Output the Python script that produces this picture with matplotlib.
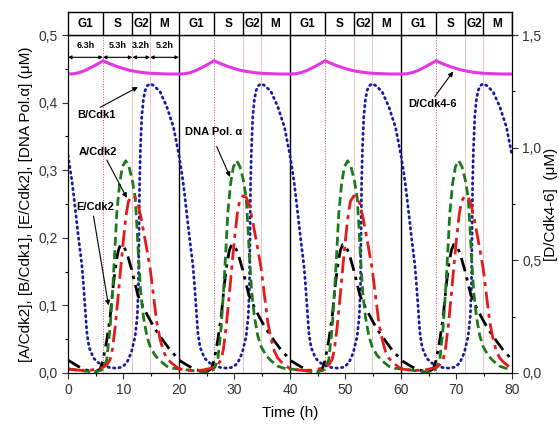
import numpy as np
import matplotlib.pyplot as plt
import matplotlib as mpl
from matplotlib.ticker import FuncFormatter, MultipleLocator

mpl.rcParams['font.family'] = ['Liberation Sans', 'DejaVu Sans']
mpl.rcParams['font.size'] = 10

period = 20.0
n_periods = 4

# one period of each curve (repeats every 20 h)
t_b = [0, 0.7, 1.0, 1.9, 2.5, 2.8, 3.1, 3.4, 3.8, 4.6, 5.5, 6.4, 7.5, 8.8, 9.8, 10.6, 11.4,
       12.1, 12.5, 12.7, 12.8, 12.9, 13.05, 13.3, 13.6, 13.9, 14.3, 14.8, 15.5, 16.6, 17.8,
       19.0, 19.7, 20]
b_cdk1 = [0.322, 0.285, 0.265, 0.2, 0.16, 0.13, 0.095, 0.06, 0.038, 0.022, 0.015, 0.011, 0.008,
          0.007, 0.009, 0.015, 0.03, 0.054, 0.085, 0.13, 0.2, 0.28, 0.33, 0.38, 0.405, 0.418,
          0.425, 0.428, 0.425, 0.416, 0.394, 0.364, 0.335, 0.322]

t_e = [0, 1, 2, 3, 4, 5, 5.8, 6.3, 7.0, 7.6, 8.2, 8.7, 9.1, 9.5, 10.0, 10.6, 11.5, 12.6,
       13.7, 14.8, 15.7, 16.6, 17.5, 18.4, 19.3, 20]
e_cdk2 = [0.019, 0.014, 0.009, 0.005, 0.003, 0.002, 0.006, 0.018, 0.049, 0.083, 0.133, 0.165,
          0.182, 0.19, 0.188, 0.178, 0.152, 0.115, 0.095, 0.078, 0.065, 0.054, 0.044, 0.034,
          0.026, 0.019]

t_g = [0, 2, 4, 5, 6, 6.5, 7.0, 7.6, 8.1, 8.5, 8.8, 9.3, 9.8, 10.4, 11.0, 11.6, 12.1, 12.4,
       12.7, 13.1, 13.6, 14.2, 14.8, 15.7, 16.6, 17.8, 18.9, 20]
dna_pol = [0.006, 0.004, 0.002, 0.002, 0.004, 0.009, 0.02, 0.068, 0.13, 0.19, 0.237, 0.28,
           0.305, 0.314, 0.305, 0.285, 0.26, 0.22, 0.172, 0.12, 0.083, 0.055, 0.039, 0.026,
           0.018, 0.01, 0.007, 0.006]

t_a = [0, 2, 4, 5.2, 6.2, 7.0, 7.6, 8.0, 8.5, 9.0, 9.5, 10.0, 10.5, 10.9, 11.5, 12.1, 12.6,
       13.2, 13.9, 14.8, 15.4, 16.0, 16.6, 17.2, 17.8, 18.6, 19.4, 20]
a_cdk2 = [0.006, 0.004, 0.004, 0.006, 0.008, 0.012, 0.02, 0.035, 0.068, 0.11, 0.155, 0.198,
          0.235, 0.254, 0.262, 0.26, 0.25, 0.228, 0.197, 0.155, 0.115, 0.075, 0.05, 0.032,
          0.022, 0.015, 0.01, 0.006]

t_d = [0, 1, 2, 3, 4, 5, 6, 6.3, 7, 8, 9, 10, 11, 12, 13, 14, 15, 16, 17, 18, 20]
d_cdk46 = [1.327, 1.328, 1.333, 1.342, 1.354, 1.367, 1.381, 1.386, 1.378, 1.368, 1.359, 1.351,
           1.344, 1.339, 1.335, 1.332, 1.330, 1.329, 1.328, 1.327, 1.327]

phases = ['G1', 'S', 'G2', 'M']
phase_len = [6.3, 5.3, 3.2, 5.2]


def tile(t, y):
    tt = np.concatenate([np.array(t) + k * period for k in range(n_periods)])
    yy = np.tile(np.array(y), n_periods)
    return tt, yy


fig = plt.figure(figsize=(5.59, 4.25), dpi=100)
ax = fig.add_axes([0.1216, 0.1224, 0.7943, 0.7952])
ax2 = ax.twinx()
axp = fig.add_axes([0.1216, 0.9176, 0.7943, 0.0542])

# phase boundary lines
bounds = np.cumsum(phase_len)[:-1]
for k in range(n_periods):
    for i, bx in enumerate(bounds):
        if i == 0:
            ax.axvline(bx + k * period, color='#c05050', ls=':', lw=0.7, zorder=0)
        else:
            ax.axvline(bx + k * period, color='#ebbcbc', ls='-', lw=0.6, zorder=0)
    if k > 0:
        ax.axvline(k * period, color='black', lw=1.0, zorder=1)

tt, yy = tile(t_b, b_cdk1)
ax.plot(tt, yy, color='#1a1aa0', ls=(0, (0.5, 1.5)), lw=2.0, dash_capstyle='round')
tt, yy = tile(t_e, e_cdk2)
ax.plot(tt, yy, color='black', ls=(0, (5, 2.2, 1.2, 2.2)), lw=2.0)
tt, yy = tile(t_g, dna_pol)
ax.plot(tt, yy, color='#1c7a1c', ls=(0, (3.2, 1.6)), lw=2.0)
tt, yy = tile(t_a, a_cdk2)
ax.plot(tt, yy, color='#e41b1b', ls=(0, (6, 2, 1.5, 2)), lw=2.0)
tt, yy = tile(t_d, d_cdk46)
ax2.plot(tt, yy, color='#e535e5', lw=2.2)

ax.set_xlim(0, 80)
ax.set_ylim(0, 0.5)
ax2.set_ylim(0, 1.5)

comma = FuncFormatter(lambda v, p: f'{v:.1f}'.replace('.', ','))
ax.yaxis.set_major_formatter(comma)
ax2.yaxis.set_major_formatter(comma)
ax.xaxis.set_major_locator(MultipleLocator(10))
ax.xaxis.set_minor_locator(MultipleLocator(5))
ax.yaxis.set_major_locator(MultipleLocator(0.1))
ax.yaxis.set_minor_locator(MultipleLocator(0.05))
ax2.yaxis.set_major_locator(MultipleLocator(0.5))
ax2.yaxis.set_minor_locator(MultipleLocator(0.25))
for a in (ax, ax2):
    a.tick_params(which='major', direction='out', length=4, width=0.8, labelsize=10, colors='#333333')
    a.tick_params(which='minor', direction='out', length=2.5, width=0.8)

ax.set_xlabel('Time (h)', fontsize=11, labelpad=6)
ax.set_ylabel('[A/Cdk2], [B/Cdk1], [E/Cdk2], [DNA Pol.α] (μM)', fontsize=11, labelpad=4)
ax2.set_ylabel('[D/Cdk4-6]  (μM)', fontsize=11, labelpad=2)

# phase duration arrows over the first cycle
start = 0.0
for ph, L in zip(phases, phase_len):
    ax.annotate('', xy=(start + L, 0.467), xytext=(start, 0.467),
                arrowprops=dict(arrowstyle='<|-|>', color='black', lw=0.8,
                                mutation_scale=5, shrinkA=0, shrinkB=0))
    ax.text(start + L / 2, 0.478, f'{L}h', ha='center', va='bottom', fontsize=6.5,
            fontweight='bold')
    start += L

# curve labels
lab = dict(fontsize=8, fontweight='bold')
arw = dict(arrowstyle='-|>', color='black', lw=0.8, mutation_scale=7, shrinkA=0, shrinkB=0)
ax.text(1.6, 0.382, 'B/Cdk1', ha='left', va='center', **lab)
ax.annotate('', xy=(12.6, 0.423), xytext=(5.8, 0.393), arrowprops=arw)
ax.text(5.4, 0.327, 'A/Cdk2', ha='center', va='center', **lab)
ax.annotate('', xy=(10.6, 0.259), xytext=(7.0, 0.315), arrowprops=arw)
ax.text(4.9, 0.246, 'E/Cdk2', ha='center', va='center', **lab)
ax.annotate('', xy=(7.3, 0.1), xytext=(4.6, 0.232), arrowprops=arw)
ax.text(26.3, 0.356, 'DNA Pol. α', ha='center', va='center', **lab)
ax.annotate('', xy=(29.2, 0.29), xytext=(26.8, 0.335), arrowprops=arw)
ax.text(65.6, 0.398, 'D/Cdk4-6', ha='center', va='center', **lab)
ax.annotate('', xy=(69.4, 0.446), xytext=(66.1, 0.409), arrowprops=arw)

# phase bar on top
axp.set_xlim(0, 80)
axp.set_ylim(0, 1)
axp.set_xticks([])
axp.set_yticks([])
for k in range(n_periods):
    start = k * period
    for ph, L in zip(phases, phase_len):
        axp.text(start + L / 2, 0.5, ph, ha='center', va='center', fontsize=8.5,
                 fontweight='bold')
        start += L
        axp.axvline(start, color='black', lw=1.0)
for s in axp.spines.values():
    s.set_linewidth(1.0)

fig.savefig('out.png', dpi=100)
